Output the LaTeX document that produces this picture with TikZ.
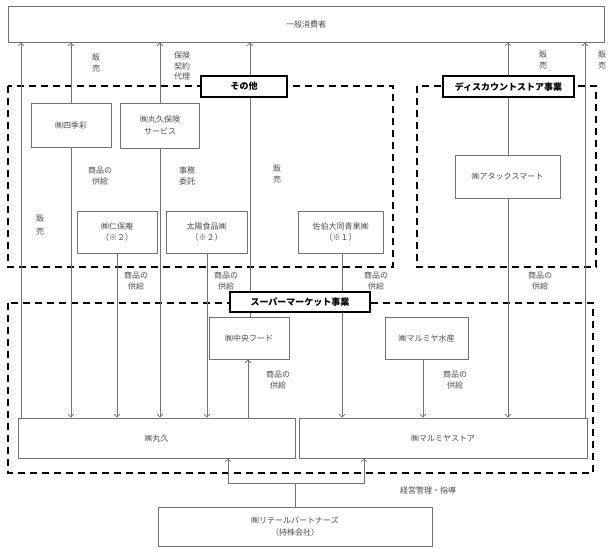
\documentclass[tikz,border=0pt]{standalone}
\usepackage{fontspec}
\setmainfont{Noto Sans CJK JP}
\usetikzlibrary{arrows.meta}
\definecolor{tc}{gray}{0.3}
\definecolor{lc}{gray}{0.45}
\begin{document}
\begin{tikzpicture}[x=1pt,y=-1pt,
  font=\fontsize{8}{11.5}\selectfont,
  box/.style={draw=lc,line width=0.8pt,fill=white,text=tc,align=center,inner sep=0pt},
  lbl/.style={text=tc,align=center,inner sep=0pt,font=\fontsize{8}{11}\selectfont},
  conn/.style={draw=lc,line width=0.7pt},
  arr/.style={conn,-{Straight Barb[length=3pt,width=6pt]}},
  dbox/.style={draw=black,line width=1.8pt,dash pattern=on 7pt off 5pt},
  tag/.style={draw=black,line width=1.6pt,fill=white,font=\fontsize{9}{10}\selectfont\bfseries,inner sep=0pt}]
\useasboundingbox (0,0) rectangle (613,552);

% dashed groups
\draw[dbox] (8,86) rectangle (393,267);
\draw[dbox] (417,86) rectangle (596,267);
\draw[dbox] (8,303) rectangle (593,473);

% nodes
\node[box,minimum width=596pt,minimum height=36pt] (top) at (306,24) {一般消費者};
\node[box,minimum width=80pt,minimum height=44pt] (shiki) at (71,125) {㈱四季彩};
\node[box,minimum width=79pt,minimum height=45pt] (hoken) at (160,125.5) {㈱丸久保険\\サービス};
\node[box,minimum width=80pt,minimum height=42pt] (niho) at (117,232) {㈱仁保庵\\（※２）};
\node[box,minimum width=81pt,minimum height=42pt] (taiyo) at (206.5,232) {太陽食品㈱\\（※２）};
\node[box,minimum width=85pt,minimum height=42pt] (saeki) at (340.5,232) {佐伯大同青果㈱\\（※１）};
\node[box,minimum width=105pt,minimum height=43pt] (attack) at (507.5,176.5) {㈱アタックスマート};
\node[box,minimum width=80pt,minimum height=42pt] (chuo) at (249,338) {㈱中央フード};
\node[box,minimum width=83pt,minimum height=42pt] (suisan) at (426.5,338) {㈱マルミヤ水産};
\node[box,minimum width=277pt,minimum height=40pt] (maruk) at (156.5,438) {㈱丸久};
\node[box,minimum width=288pt,minimum height=40pt] (marum) at (443,438) {㈱マルミヤストア};
\node[box,minimum width=274pt,minimum height=39pt] (retail) at (295,526.5) {㈱リテールパートナーズ\\（持株会社）};

% x positions
\coordinate (x21) at (21,0);
\coordinate (x71) at (71,0);
\coordinate (x117) at (117,0);
\coordinate (x160) at (160,0);
\coordinate (x207) at (207,0);
\coordinate (x248) at (248,0);
\coordinate (x250) at (250,0);
\coordinate (x342) at (342,0);
\coordinate (x423) at (423,0);
\coordinate (x508) at (508,0);
\coordinate (x585) at (585,0);
\coordinate (jn) at (295,483);
\coordinate (jl) at (228,483);
\coordinate (jr) at (364,483);

% connectors
\draw[arr] (maruk.north -| x21) -- (top.south -| x21);
\draw[arr] (shiki.north -| x71) -- (top.south -| x71);
\draw[arr] (shiki.south -| x71) -- (maruk.north -| x71);
\draw[arr] (hoken.north -| x160) -- (top.south -| x160);
\draw[arr] (hoken.south -| x160) -- (maruk.north -| x160);
\draw[arr] (chuo.north -| x250) -- (top.south -| x250);
\draw[arr] (niho.south -| x117) -- (maruk.north -| x117);
\draw[arr] (taiyo.south -| x207) -- (maruk.north -| x207);
\draw[arr] (saeki.south -| x342) -- (marum.north -| x342);
\draw[arr] (attack.north -| x508) -- (top.south -| x508);
\draw[arr] (attack.south -| x508) -- (marum.north -| x508);
\draw[arr] (marum.north -| x585) -- (top.south -| x585);
\draw[arr] (maruk.north -| x248) -- (chuo.south -| x248);
\draw[arr] (suisan.south -| x423) -- (marum.north -| x423);
\draw[conn] (retail.north) -- (jn);
\draw[arr] (jn) -- (jl) -- (maruk.south -| jl);
\draw[arr] (jn) -- (jr) -- (marum.south -| jr);

% group tags
\node[tag,minimum width=86pt,minimum height=21pt] (tsonota) at (244,86.5) {その他};
\node[tag,minimum width=131pt,minimum height=21pt] (tdisc) at (508.5,86.5) {ディスカウントストア事業};
\node[tag,minimum width=140pt,minimum height=20pt] (tsuper) at (300,302) {スーパーマーケット事業};

% labels
\node[lbl,font=\fontsize{8}{13}\selectfont] (l1) at (40,225) {販\\売};
\node[lbl] (l2) at (96,63) {販\\売};
\node[lbl,font=\fontsize{8}{10.5}\selectfont] (l3) at (100,176) {商品の\\供給};
\node[lbl,font=\fontsize{8}{10.5}\selectfont] (l4) at (182,66) {保険\\契約\\代理};
\node[lbl,font=\fontsize{8}{11.5}\selectfont] (l5) at (187,176) {事務\\委託};
\node[lbl] (l6) at (277,174) {販\\売};
\node[lbl,font=\fontsize{8}{10.5}\selectfont] (l7) at (136,281) {商品の\\供給};
\node[lbl,font=\fontsize{8}{10.5}\selectfont] (l8) at (226,281) {商品の\\供給};
\node[lbl,font=\fontsize{8}{10.5}\selectfont] (l9) at (376,281) {商品の\\供給};
\node[lbl] (l10) at (543,60.5) {販\\売};
\node[lbl,font=\fontsize{8}{10.5}\selectfont] (l11) at (540,281) {商品の\\供給};
\node[lbl] (l12) at (602,60.5) {販\\売};
\node[lbl,font=\fontsize{8}{10.5}\selectfont] (l13) at (278,380) {商品の\\供給};
\node[lbl,font=\fontsize{8}{10.5}\selectfont] (l14) at (455,380) {商品の\\供給};
\node[lbl] (l15) at (428,490) {経営管理・指導};
\end{tikzpicture}
\end{document}
